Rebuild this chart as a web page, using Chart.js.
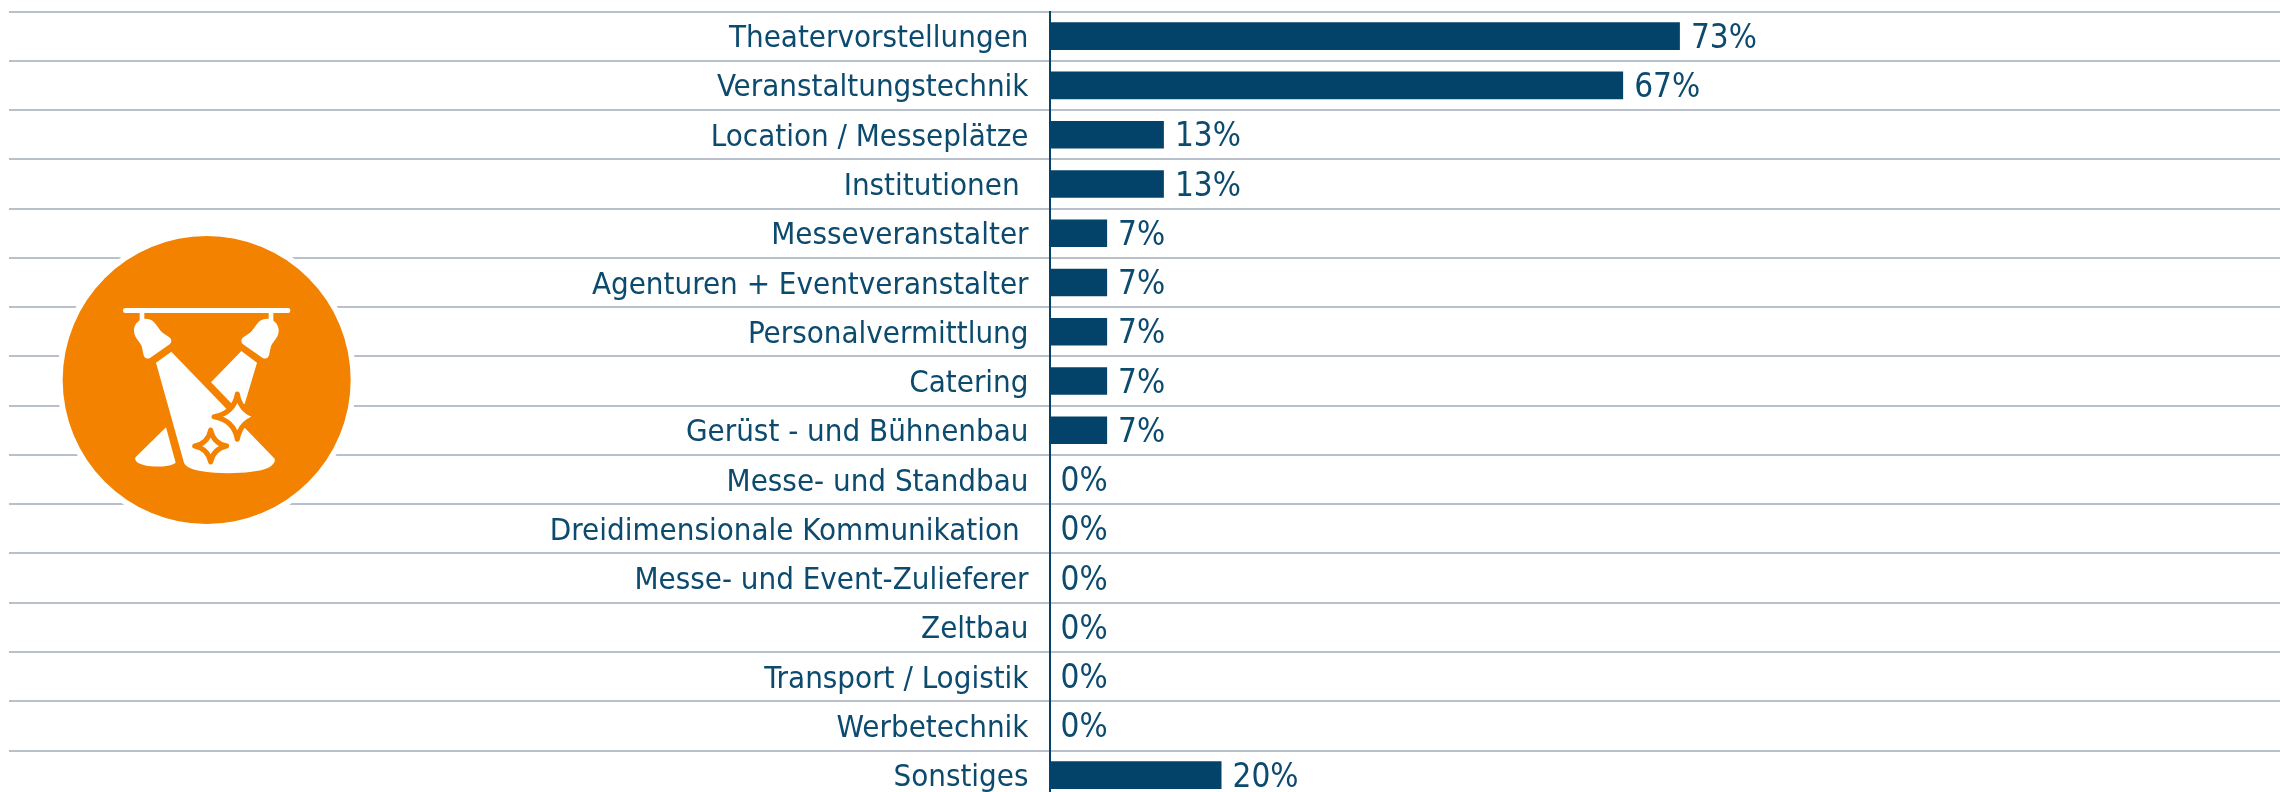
<!DOCTYPE html>
<html>
<head>
<meta charset="utf-8">
<script src="https://cdn.jsdelivr.net/npm/chart.js@4/dist/chart.umd.min.js"></script>
<style>
html, body { margin: 0; padding: 0; background: #fff; }
#wrap { position: relative; width: 2280px; height: 792px; overflow: hidden; }
#chart { position: absolute; left: 0; top: 0; }
#icon { position: absolute; left: 0; top: 200px; width: 400px; height: 360px; }
</style>
</head>
<body>
<div id="wrap">
    <canvas id="chart" width="2280" height="800"></canvas>
    <!-- Icon coordinates: 3x of the 400x360 box -->
    <svg id="icon" viewBox="0 0 1200 1080">
        <circle cx="620" cy="540" r="449" fill="#fff"/>
        <circle cx="620" cy="540" r="432" fill="#f38200"/>
        <g fill="#fff">
            <rect x="369" y="324" width="502" height="15" rx="7"/>
            <rect x="419" y="335" width="14" height="30"/>
            <rect x="806" y="335" width="14" height="30"/>
            <path d="M435 356 C465 354 472 385 488 398 L510 413 Q518 422 510 432 L450 474 Q436 480 431 466 L425 438 C415 420 400 410 402 388 C404 370 418 358 435 356Z"/>
            <path d="M803 356 C773 354 766 385 750 398 L728 413 Q720 422 728 432 L788 474 Q802 480 807 466 L813 438 C823 420 838 410 836 388 C834 370 820 358 803 356Z"/>
            <path d="M468 488 L514 455 L824 776 Q828 790 805 803 C760 825 600 825 565 802 Q555 797 552 788Z"/>
            <path d="M724 453 L771 488 L734 612 L694 610 L633 547Z"/>
            <path d="M498 682 L527 788 C505 805 430 803 410 785 Q402 776 408 770Z"/>
        </g>
        <path d="M712 582 Q722 640 780 650 Q722 660 712 718 Q702 660 642 650 Q702 640 712 582Z" fill="#fff" stroke="#f38200" stroke-width="15" stroke-linejoin="round"/>
        <path d="M632 690 Q640 730 680 738 Q640 746 632 786 Q624 746 584 738 Q624 730 632 690Z" fill="#fff" stroke="#f38200" stroke-width="15" stroke-linejoin="round"/>
    </svg>
</div>
<script>
// --- data ---
const categories = [
    "Theatervorstellungen", "Veranstaltungstechnik", "Location / Messeplätze", "Institutionen ",
    "Messeveranstalter", "Agenturen + Eventveranstalter", "Personalvermittlung", "Catering",
    "Gerüst - und Bühnenbau", "Messe- und Standbau", "Dreidimensionale Kommunikation ",
    "Messe- und Event-Zulieferer", "Zeltbau", "Transport / Logistik", "Werbetechnik", "Sonstiges"
];
const values = [73.3, 66.7, 13.3, 13.3, 6.7, 6.7, 6.7, 6.7, 6.7, 0, 0, 0, 0, 0, 0, 20];
const valueLabels = ["73%", "67%", "13%", "13%", "7%", "7%", "7%", "7%", "7%", "0%", "0%", "0%", "0%", "0%", "0%", "20%"];

const FAMILY = "'DejaVu Sans Condensed', 'DejaVu Sans'";
const FONT_SIZE = 31;
const NAVY = '#03436a';
const TEXT = '#0c4a6e';
const GRID = '#b9c0cb';

// value labels right of each bar
const barLabels = {
    id: 'barLabels',
    afterDatasetsDraw(chart) {
        const ctx = chart.ctx;
        ctx.save();
        ctx.font = "33px " + FAMILY;
        ctx.fillStyle = TEXT;
        ctx.textAlign = 'left';
        ctx.textBaseline = 'middle';
        chart.getDatasetMeta(0).data.forEach((bar, i) => {
            ctx.fillText(valueLabels[i], bar.x + 11, bar.y + 3);
        });
        ctx.restore();
    }
};

const AXIS_X = 1049.5;
const GRID_LEFT = 9;

new Chart(document.getElementById('chart'), {
    type: 'bar',
    data: {
        labels: categories,
        datasets: [{
            data: values,
            backgroundColor: NAVY,
            barPercentage: 0.56,
            categoryPercentage: 1
        }]
    },
    options: {
        indexAxis: 'y',
        responsive: false,
        animation: false,
        layout: { padding: { top: 11.5, bottom: 0.2 } },
        plugins: { legend: { display: false }, tooltip: { enabled: false } },
        scales: {
            x: { display: false, min: 0, max: 143.08, grid: { display: false } },
            y: {
                afterFit: (scale) => { scale.width = AXIS_X; },
                border: { color: NAVY, width: 2 },
                // tick marks run the grid lines out to the left edge, labels pulled back next to the axis
                grid: { color: GRID, lineWidth: 2, offset: true, drawTicks: true, tickLength: AXIS_X - GRID_LEFT },
                ticks: {
                    color: TEXT,
                    font: { family: FAMILY, size: FONT_SIZE },
                    padding: -(AXIS_X - GRID_LEFT) + 21,
                    labelOffset: 3,
                    autoSkip: false
                }
            }
        }
    },
    plugins: [barLabels]
});
</script>
</body>
</html>
